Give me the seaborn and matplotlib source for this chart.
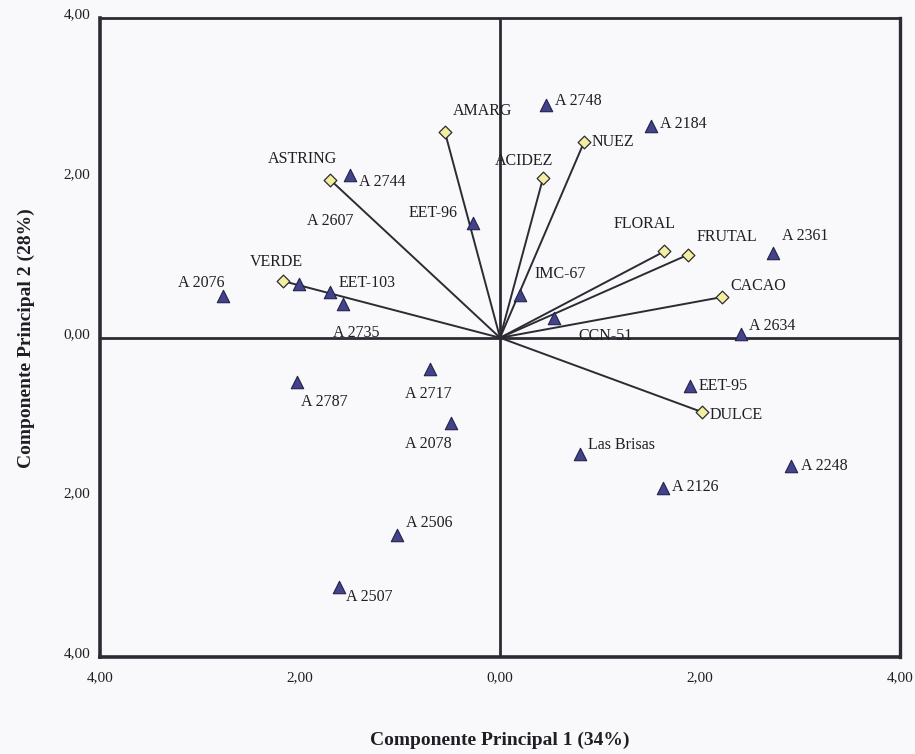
import matplotlib
matplotlib.use("Agg")
import matplotlib.pyplot as plt
import seaborn as sns
import pandas as pd

# Cultivar scores on the first two principal components
cultivars = ["A 2748", "A 2184", "A 2744", "EET-96", "A 2361", "A 2076", "A 2607",
             "EET-103", "A 2735", "IMC-67", "CCN-51", "A 2634", "A 2717", "A 2787",
             "EET-95", "A 2078", "Las Brisas", "A 2248", "A 2126", "A 2506", "A 2507"]
pc1_scores = [0.46, 1.51, -1.50, -0.27, 2.73, -2.77, -2.01,
              -1.70, -1.57, 0.20, 0.54, 2.41, -0.70, -2.03,
              1.90, -0.49, 0.80, 2.91, 1.63, -1.03, -1.61]
pc2_scores = [2.91, 2.65, 2.04, 1.44, 1.06, 0.52, 0.67,
              0.57, 0.42, 0.53, 0.25, 0.05, -0.39, -0.55,
              -0.60, -1.07, -1.45, -1.61, -1.88, -2.47, -3.12]

# Sensory attribute loadings (vectors from the origin)
attributes = ["AMARG", "ASTRING", "ACIDEZ", "NUEZ", "FLORAL", "FRUTAL", "CACAO", "VERDE", "DULCE"]
pc1_loadings = [-0.55, -1.70, 0.43, 0.84, 1.64, 1.88, 2.22, -2.17, 2.02]
pc2_loadings = [2.57, 1.98, 2.00, 2.45, 1.08, 1.04, 0.51, 0.71, -0.93]

tick_values = [-4, -2, 0, 2, 4]
tick_labels = ["4,00", "2,00", "0,00", "2,00", "4,00"]

# label placement (offset in pixels, horizontal alignment)
cultivar_label_style = [(9, 4, "left"), (9, 2, "left"), (9, -7, "left"), (-15, 10, "right"),
                        (9, 17, "left"), (-22, 13, "center"), (8, 63, "left"),
                        (9, 9, "left"), (13, -29, "center"), (14, 21, "left"), (24, -18, "left"),
                        (8, 8, "left"), (-2, -25, "center"), (4, -20, "left"),
                        (8, 0, "left"), (-23, -21, "center"), (8, 9, "left"), (10, 0, "left"),
                        (9, 1, "left"), (9, 12, "left"), (7, -10, "left")]
attribute_label_style = [(8, 21, "left"), (7, 21, "right"), (10, 17, "right"), (7, 0, "left"),
                         (11, 27, "right"), (8, 18, "left"), (8, 11, "left"), (-7, 19, "center"),
                         (7, -3, "left")]

scores = pd.DataFrame({"cultivar": cultivars, "pc1": pc1_scores, "pc2": pc2_scores})
loadings = pd.DataFrame({"attribute": attributes, "pc1": pc1_loadings, "pc2": pc2_loadings})

sns.set_theme(style="white")
plt.rcParams["font.family"] = ["Liberation Serif", "DejaVu Serif"]

ink = "#2b2b33"
text_ink = "#1e1e24"
bg = "#f9f9fb"

fig = plt.figure(figsize=(9.15, 7.54), dpi=100, facecolor=bg)
ax = fig.add_axes([0.109, 0.128, 0.875, 0.848], facecolor=bg)

# reference axes through the origin
ax.axhline(0, color=ink, lw=2.0, zorder=1)
ax.axvline(0, color=ink, lw=2.0, zorder=1)

# attribute vectors
for x1, y1 in zip(loadings["pc1"], loadings["pc2"]):
    ax.plot([0, x1], [0, y1], color=ink, lw=1.4, zorder=2)

sns.scatterplot(data=loadings, x="pc1", y="pc2", marker="D", s=42,
                color="#f3eea0", edgecolor=ink, linewidth=0.9, ax=ax, zorder=3)
sns.scatterplot(data=scores, x="pc1", y="pc2", marker="^", s=80,
                color="#43438c", edgecolor="#22224a", linewidth=0.8, ax=ax, zorder=3)

for name, x, y, (dx, dy, ha) in zip(cultivars, pc1_scores, pc2_scores, cultivar_label_style):
    ax.annotate(name, (x, y), xytext=(dx, dy), textcoords="offset pixels",
                ha=ha, va="center", fontsize=11.5, color=text_ink, zorder=4)
for name, x, y, (dx, dy, ha) in zip(attributes, pc1_loadings, pc2_loadings, attribute_label_style):
    ax.annotate(name, (x, y), xytext=(dx, dy), textcoords="offset pixels",
                ha=ha, va="center", fontsize=11.5, color=text_ink, zorder=4)

ax.set_xlim(-4, 4)
ax.set_ylim(-4, 4)
ax.set_xticks(tick_values)
ax.set_xticklabels(tick_labels)
ax.set_yticks(tick_values)
ax.set_yticklabels(tick_labels)
ax.tick_params(axis="both", direction="out", length=4, width=1.2, color=ink,
               labelsize=11, labelcolor=text_ink, pad=3)
ax.tick_params(axis="x", pad=6)
for lbl in ax.get_yticklabels():
    lbl.set_verticalalignment("baseline")

for side in ["left", "bottom", "top", "right"]:
    ax.spines[side].set_visible(True)
    ax.spines[side].set_color(ink)
ax.spines["left"].set_linewidth(2.6)
ax.spines["bottom"].set_linewidth(2.6)
ax.spines["top"].set_linewidth(2.0)
ax.spines["right"].set_linewidth(2.4)

ax.set_xlabel("Componente Principal 1 (34%)", fontsize=14, fontweight="bold",
              color=text_ink, labelpad=34)
ax.set_ylabel("Componente Principal 2 (28%)", fontsize=14, fontweight="bold",
              color=text_ink, labelpad=20)

fig.savefig("out.png", dpi=100, facecolor=bg)
